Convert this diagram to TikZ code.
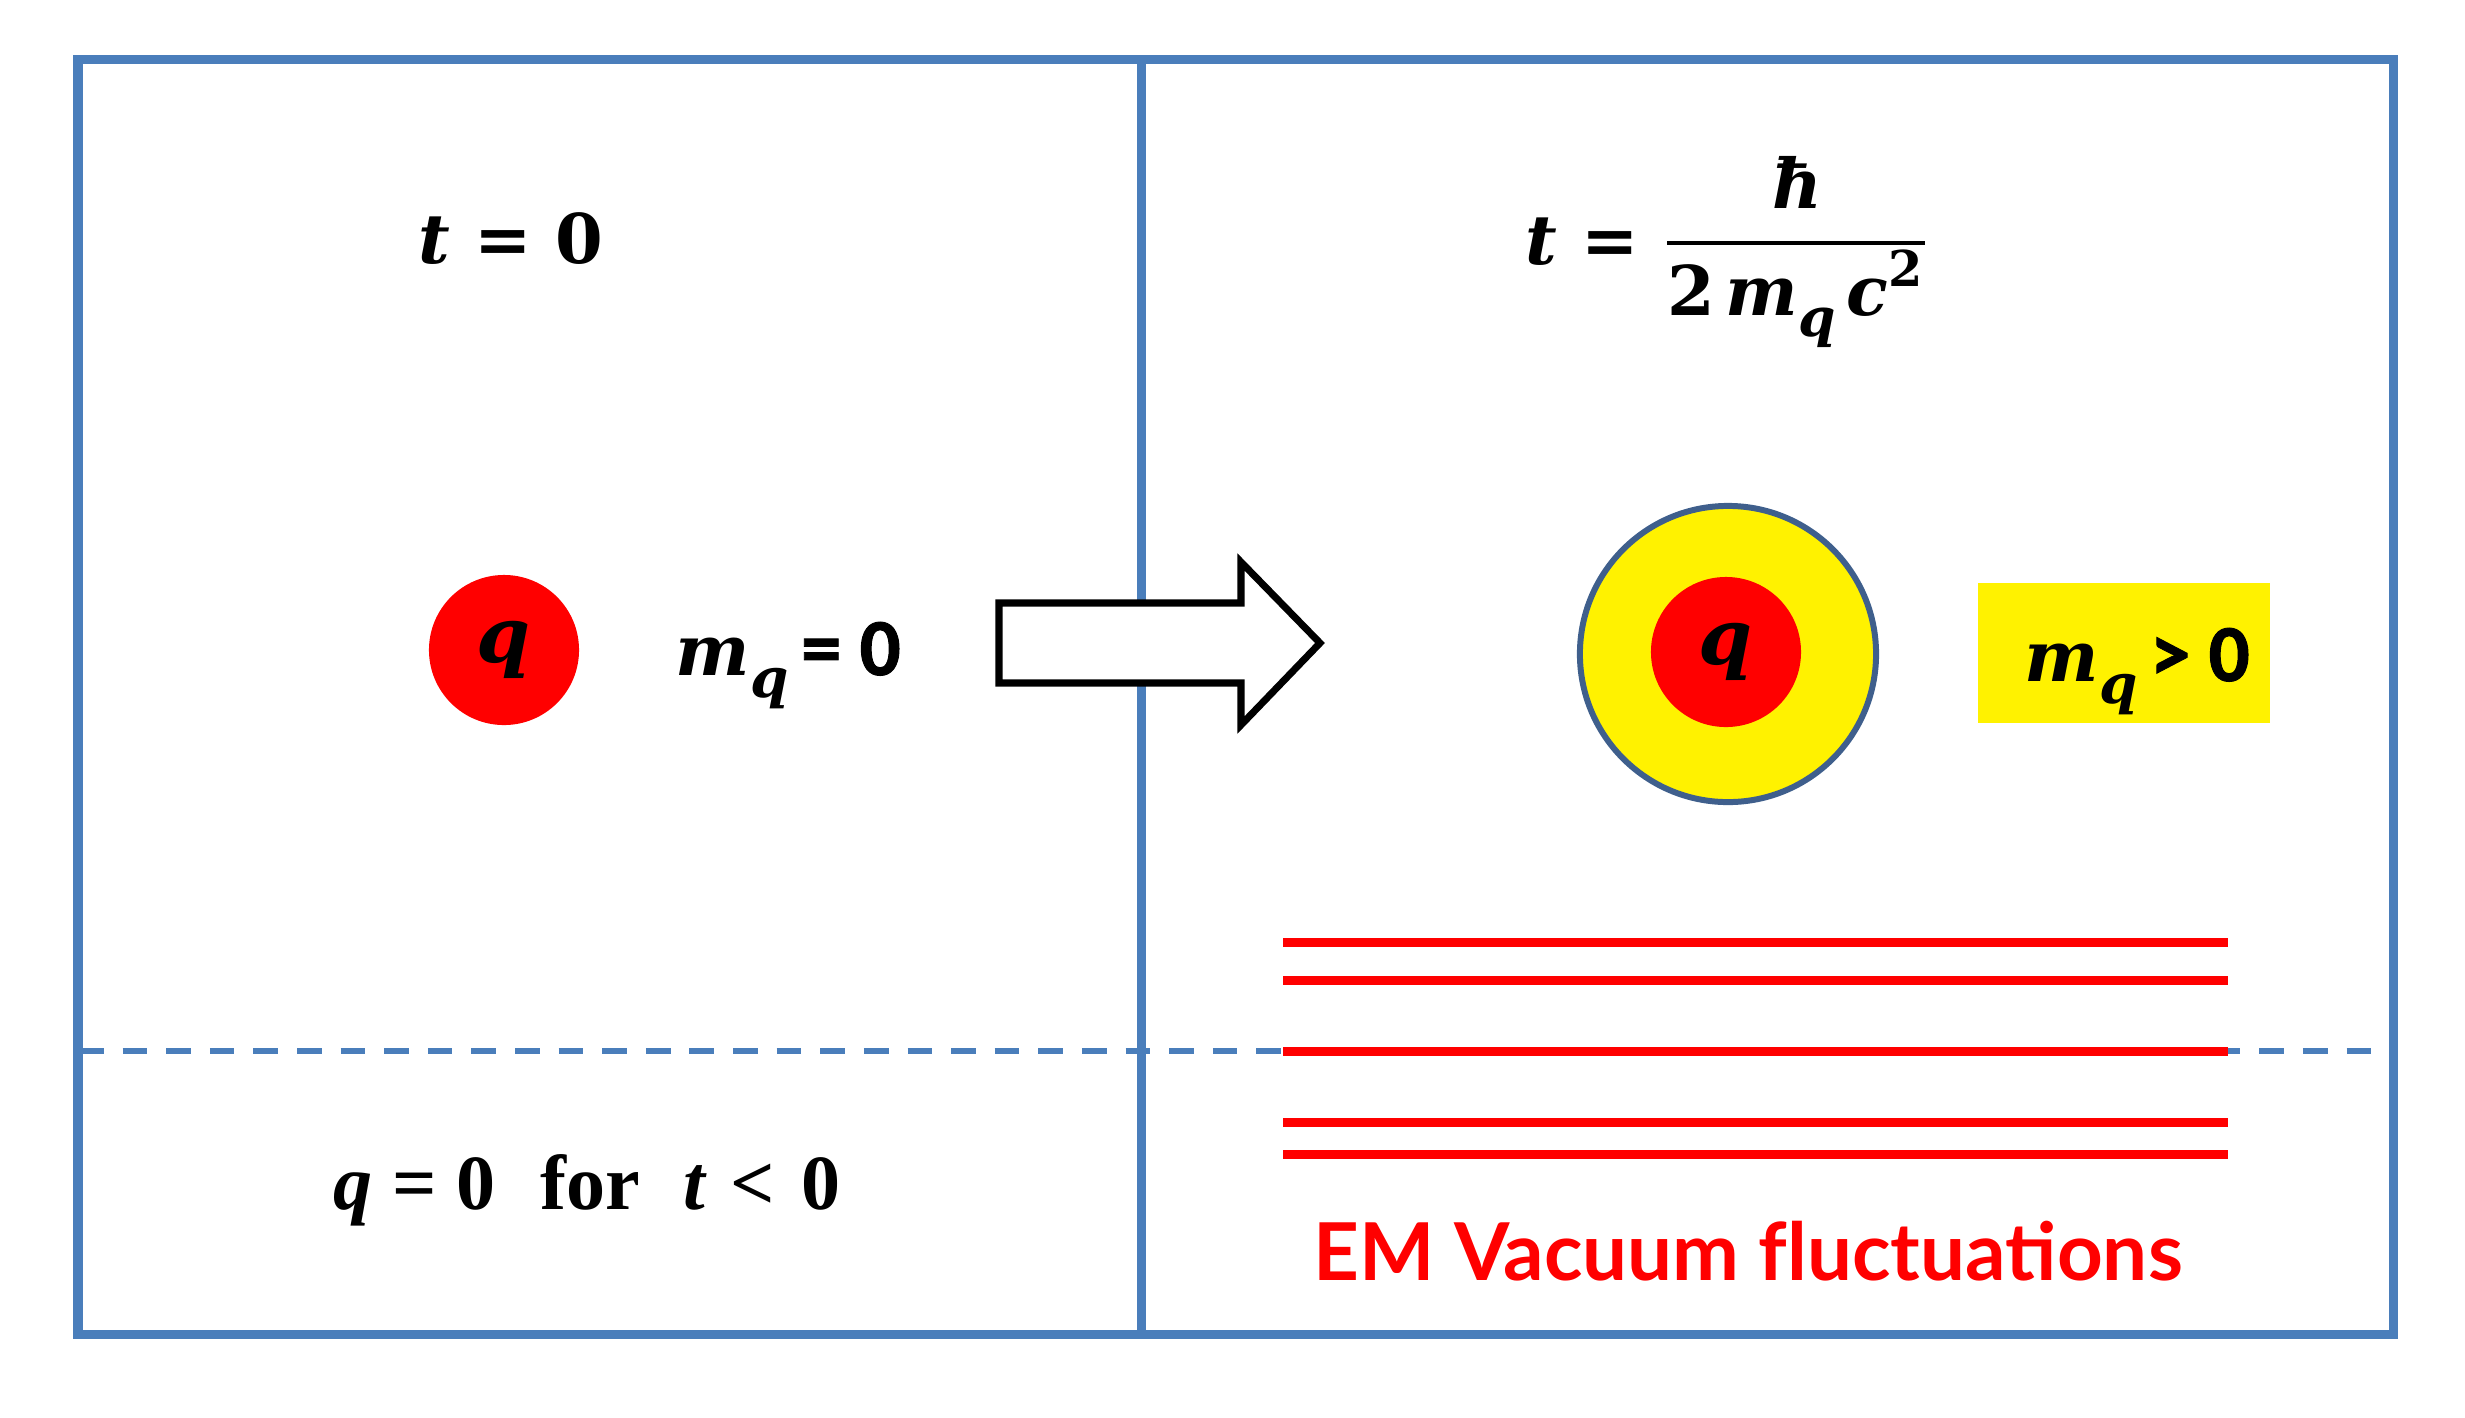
\documentclass[tikz,border=0pt]{standalone}
\usepackage{fontspec}
\usepackage{graphicx}
\newfontfamily\calib{Carlito}[BoldFeatures={FakeBold=1.2}]
\newfontfamily\timesf{Liberation Serif}
\newfontfamily\comicf{Lato}
\newfontfamily\cambr{DejaVu Serif}
\newcommand\lowsub[1]{\raisebox{-0.32em}{\scalebox{0.78}{#1}}}
\newcommand\highsup[1]{\raisebox{0.42em}{\scalebox{0.72}{#1}}}
\newcommand\calibtxt[1]{{\normalfont\calib\bfseries\fontsize{23}{27}\selectfont #1}}
\definecolor{frameblue}{HTML}{4A7EBB}
\definecolor{ringblue}{HTML}{3F5F8C}
\definecolor{qred}{HTML}{FF0000}
\tikzset{
  framestyle/.style={draw=frameblue, line width=2.56pt},
  dashstyle/.style={draw=frameblue, line width=1.75pt, dash pattern=on 7pt off 5.4pt},
  mathtxt/.style={font=\cambr\bfseries\fontsize{19.5}{24}\selectfont, inner sep=0pt},
  qball/.style={circle, fill=qred, minimum size=1.5cm, inner sep=0pt, font=\cambr\bfseries\itshape\fontsize{22}{26}\selectfont},
  ring/.style={circle, fill=yellow, draw=ringblue, line width=1.7pt, minimum size=2.96cm, inner sep=0pt},
  massbox/.style={fill=yellow, minimum width=2.91cm, minimum height=1.4cm, inner sep=0pt},
  masstxt/.style={font=\cambr\bfseries\fontsize{20}{24}\selectfont, inner sep=0pt},
  fluct/.style={draw=qred, line width=2.56pt},
  fracbar/.style={draw=black, line width=1.15pt},
  bigarrow/.style={draw=black, fill=white, line width=2pt, line join=miter},
  timestxt/.style={font=\timesf\bfseries\fontsize{22.2}{26}\selectfont, inner sep=0pt},
  emtxt/.style={font=\comicf\bfseries\fontsize{22.7}{27}\selectfont, text=qred, inner sep=0pt}
}
\begin{document}
\begin{tikzpicture}[x=0.01cm,y=-0.01cm]
\useasboundingbox (0,0) rectangle (2465,1417);
% frame
\coordinate (tl) at (78,59);
\coordinate (br) at (2393,1334);
\coordinate (mt) at (1141,59);
\coordinate (mb) at (1141,1334);
\coordinate (dl) at (79,1051);
\coordinate (dr) at (2393,1051);
\draw[dashstyle] (dl) -- (dr);
\draw[framestyle] (tl) rectangle (br);
\draw[framestyle] (mt) -- (mb);
% arrow
\draw[bigarrow] (999,603) -- (1241,603) -- (1241,562) -- (1320,643) -- (1241,725) -- (1241,683) -- (999,683) -- cycle;
% left panel
\node[mathtxt, anchor=base] (t0) at (511,263) {{\itshape t} = 0};
\node[qball] (q1) at (504,650) {q};
\node[masstxt, anchor=base west] (m0) at (675,675) {{\itshape m}\lowsub{\itshape q}\hspace{0.18em}\calibtxt{= 0}};
\node[timestxt, anchor=base] (cond) at (587,1209) {{\itshape q} = 0\hspace{0.58em}for\hspace{0.55em}{\itshape t}\hspace{0.33em}<\hspace{0.33em}0};
% right panel
\node[mathtxt, anchor=base west] (tf) at (1525,264) {{\itshape t} =};
\coordinate (barl) at (1667,243);
\coordinate (barr) at (1925,243);
\draw[fracbar] (barl) -- (barr);
\node[mathtxt, anchor=base] (hbar) at (1797,208) {\itshape ħ};
\node[mathtxt, anchor=base] (den) at (1795,315) {2\hspace{0.16em}{\itshape m}\lowsub{\itshape q}\hspace{0.16em}{\itshape c}\highsup{2}};
\node[ring] (ringq) at (1728,654) {};
\node[qball] (q2) at (1726,652) {q};
\node[massbox] (mbox) at (2124,653) {};
\node[masstxt, anchor=base west] (mpos) at (2024,681) {{\itshape m}\lowsub{\itshape q}\hspace{0.18em}\calibtxt{> 0}};
\draw[fluct] (1283,942) -- (2228,942);
\draw[fluct] (1283,980) -- (2228,980);
\draw[fluct] (1283,1051) -- (2228,1051);
\draw[fluct] (1283,1122) -- (2228,1122);
\draw[fluct] (1283,1154) -- (2228,1154);
\node[emtxt, anchor=base] (em) at (1748,1280) {EM Vacuum f\kern0ptluctuations};
\end{tikzpicture}
\end{document}
